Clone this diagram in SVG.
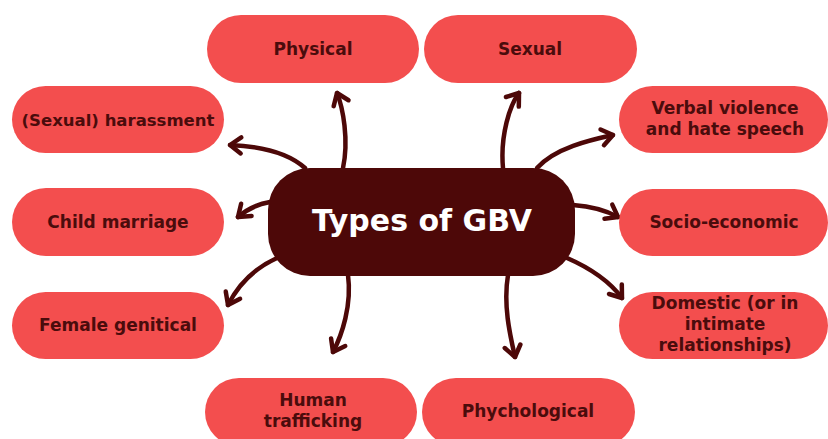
<svg xmlns="http://www.w3.org/2000/svg" width="828" height="439" viewBox="0 0 828 439">
<style>
.node rect{fill:#f34e4e}
.node text{font-family:"DejaVu Sans",sans-serif;font-weight:bold;font-size:17px;fill:#4a0c0c;text-anchor:middle}
.conn path{fill:none;stroke:#4d0808;stroke-width:4.5;stroke-linecap:round}
#center rect{fill:#4d0808}
#center text{font-family:"DejaVu Sans",sans-serif;font-weight:bold;font-size:30px;fill:#ffffff;text-anchor:middle}
</style>
<defs>
<marker id="ah" markerUnits="userSpaceOnUse" markerWidth="30" markerHeight="30" refX="0" refY="0" viewBox="-15 -15 30 30" orient="auto" overflow="visible">
<path d="M-11,-8 L0,0 L-11,8" fill="none" stroke="#4d0808" stroke-width="4.5" stroke-linecap="round" stroke-linejoin="round"/>
</marker>
</defs>
<rect width="828" height="439" fill="#ffffff"/>
<g class="conn">
<path d="M343,168 C349,140 343,108 337,93" marker-end="url(#ah)"/>
<path d="M503,168 C500,135 510,105 519,93" marker-end="url(#ah)"/>
<path d="M305,168 C285,150 255,146 230,145" marker-end="url(#ah)"/>
<path d="M537,168 C555,148 590,140 613,135" marker-end="url(#ah)"/>
<path d="M270,202 Q252,205 238,217" marker-end="url(#ah)"/>
<path d="M573,205 Q600,207 618,217" marker-end="url(#ah)"/>
<path d="M277,258 C255,268 238,285 228,305" marker-end="url(#ah)"/>
<path d="M567,258 C590,268 610,282 622,298" marker-end="url(#ah)"/>
<path d="M348,275 C352,305 342,335 333,352" marker-end="url(#ah)"/>
<path d="M508,275 C503,305 510,335 515,357" marker-end="url(#ah)"/>
</g>
<g id="center">
<rect x="268" y="168" width="307" height="108" rx="42"/>
<text x="422" y="231">Types of GBV</text>
</g>
<g id="physical" class="node">
<rect x="207" y="15" width="212" height="68" rx="34"/>
<text x="313" y="55">Physical</text>
</g>
<g id="sexual" class="node">
<rect x="424" y="15" width="213" height="68" rx="34"/>
<text x="530" y="55">Sexual</text>
</g>
<g id="harassment" class="node">
<rect x="12" y="86" width="212" height="67" rx="33.5"/>
<text x="118" y="125.5" style="font-size:16.5px">(Sexual) harassment</text>
</g>
<g id="child-marriage" class="node">
<rect x="12" y="188" width="212" height="68" rx="34"/>
<text x="118" y="228">Child marriage</text>
</g>
<g id="female-genitical" class="node">
<rect x="12" y="292" width="212" height="67" rx="33.5"/>
<text x="118" y="331">Female genitical</text>
</g>
<g id="verbal" class="node">
<rect x="619" y="86" width="209" height="67" rx="33.5"/>
<text x="725" y="114">Verbal violence</text>
<text x="725" y="135">and hate speech</text>
</g>
<g id="socio-economic" class="node">
<rect x="619" y="189" width="209" height="67" rx="33.5"/>
<text x="724" y="228">Socio-economic</text>
</g>
<g id="domestic" class="node">
<rect x="619" y="292" width="209" height="67" rx="33.5"/>
<text x="725" y="309">Domestic (or in</text>
<text x="725" y="330">intimate</text>
<text x="725" y="351">relationships)</text>
</g>
<g id="human-trafficking" class="node">
<rect x="205" y="378" width="212" height="68" rx="34"/>
<text x="313" y="406">Human</text>
<text x="313" y="427">trafficking</text>
</g>
<g id="phychological" class="node">
<rect x="422" y="378" width="213" height="68" rx="34"/>
<text x="528" y="417">Phychological</text>
</g>
</svg>
